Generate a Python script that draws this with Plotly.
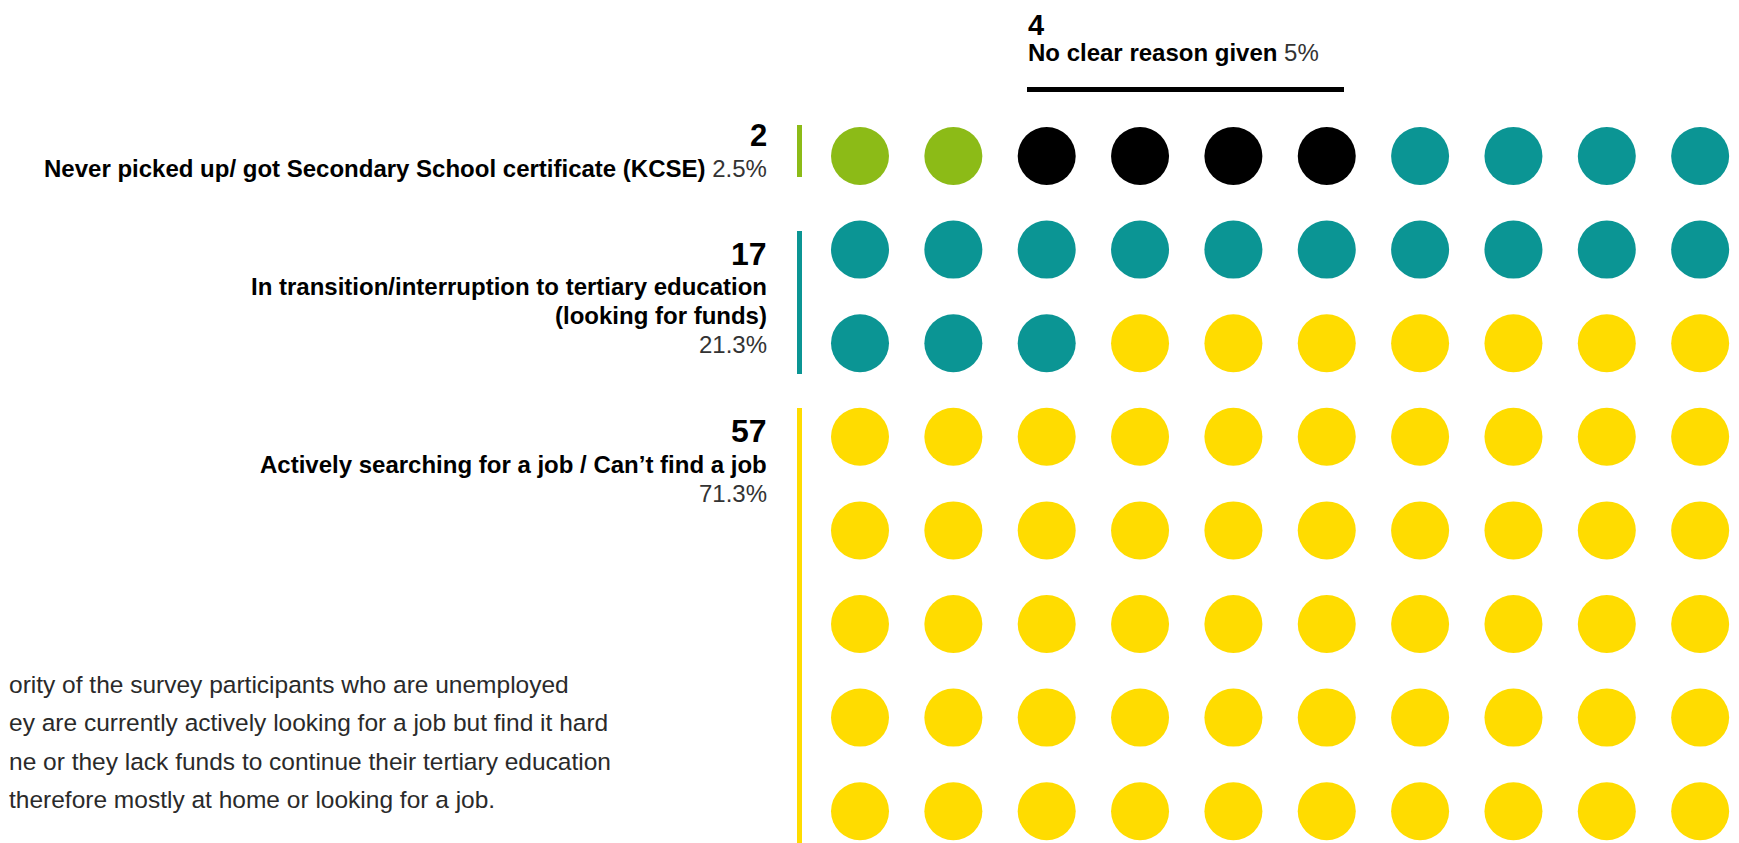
import plotly.graph_objects as go

W, H = 1739, 843
OFF = 8  # page body margin offset

# ---- data ----
categories = [
    "Never picked up/ got Secondary School certificate (KCSE)",
    "No clear reason given",
    "In transition/interruption to tertiary education (looking for funds)",
    "Actively searching for a job / Can\u2019t find a job",
]
counts = [2, 4, 17, 57]
percents = ["2.5%", "5%", "21.3%", "71.3%"]
colors = ["#8CBB17", "#000000", "#0B9594", "#FFDC00"]
n_cols = 10

paragraph_lines = [
    "ority of the survey participants who are unemployed",
    "ey are currently actively looking for a job but find it hard",
    "ne or they lack funds to continue their tertiary education",
    "therefore mostly at home or looking for a job.",
]

# ---- build unit grid ----
xs, ys, cs = [], [], []
i = 0
for cnt, col in zip(counts, colors):
    for _ in range(cnt):
        xs.append(i % n_cols)
        ys.append(i // n_cols)
        cs.append(col)
        i += 1

fig = go.Figure()
fig.add_trace(go.Scatter(
    x=xs, y=ys, mode="markers",
    marker=dict(size=58, color=cs, symbol="circle", line=dict(width=0)),
    hoverinfo="skip", showlegend=False,
))

# axes mapping (pixel layout, page coords minus body margin)
col0, colstep = 860.0 - OFF, 93.35
row0, rowstep = 156.0 - OFF, 93.6
fig.update_xaxes(range=[-col0 / colstep, (W - col0) / colstep], visible=False, domain=[0, 1])
fig.update_yaxes(range=[(H - row0) / rowstep, -row0 / rowstep], visible=False, domain=[0, 1])

FONT = "Liberation Sans, Arial, Helvetica, sans-serif"

def px(x):
    return (x - OFF) / W

def py(y):
    return 1 - (y - OFF) / H

ann = []

def add(text, x, y, size, xanchor="right", color="#000", yanchor="middle"):
    ann.append(dict(text=text, x=px(x), y=py(y), xref="paper", yref="paper",
                    xanchor=xanchor, yanchor=yanchor, showarrow=False, borderpad=0,
                    font=dict(family=FONT, size=size, color=color)))

# top label (No clear reason)
add(f"<b>{counts[1]}</b>", 1027, OFF, 29, xanchor="left", yanchor="top")
add(f"<b>{categories[1]}</b> <span style='color:#333'>{percents[1]}</span>", 1027, 52, 24, xanchor="left")

# left labels
RX = 768
add(f"<b>{counts[0]}</b>", RX, 136, 31)
add(f"<b>{categories[0]}</b> <span style='color:#333'>{percents[0]}</span>", RX, 168, 24)

add(f"<b>{counts[2]}</b>", RX, 254, 32)
add("<b>In transition/interruption to tertiary education</b>", RX, 286, 24)
add("<b>(looking for funds)</b>", RX, 315, 24)
add(f"<span style='color:#333'>{percents[2]}</span>", RX, 344, 24)

add(f"<b>{counts[3]}</b>", RX, 431, 32)
add(f"<b>{categories[3]}</b>", RX, 464, 24)
add(f"<span style='color:#333'>{percents[3]}</span>", RX, 493, 24)

# paragraph
for k, line in enumerate(paragraph_lines):
    add(line, OFF, 684 + 38.6 * k, 24.5, xanchor="left", color="#2a2a2a")

shapes = [
    # group bars
    dict(type="rect", xref="paper", yref="paper", x0=px(797), x1=px(802), y0=py(177), y1=py(125),
         fillcolor=colors[0], line=dict(width=0)),
    dict(type="rect", xref="paper", yref="paper", x0=px(797), x1=px(802), y0=py(374), y1=py(231),
         fillcolor=colors[2], line=dict(width=0)),
    dict(type="rect", xref="paper", yref="paper", x0=px(797), x1=px(802), y0=py(851), y1=py(408),
         fillcolor=colors[3], line=dict(width=0)),
    # black bracket line over "No clear reason"
    dict(type="rect", xref="paper", yref="paper", x0=px(1027), x1=px(1344), y0=py(92), y1=py(87),
         fillcolor="#000", line=dict(width=0)),
]

fig.update_layout(
    width=W, height=H,
    margin=dict(l=0, r=0, t=0, b=0),
    paper_bgcolor="white", plot_bgcolor="white",
    annotations=ann, shapes=shapes,
    showlegend=False,
)

fig.write_html("out.html", config={"displayModeBar": False})
